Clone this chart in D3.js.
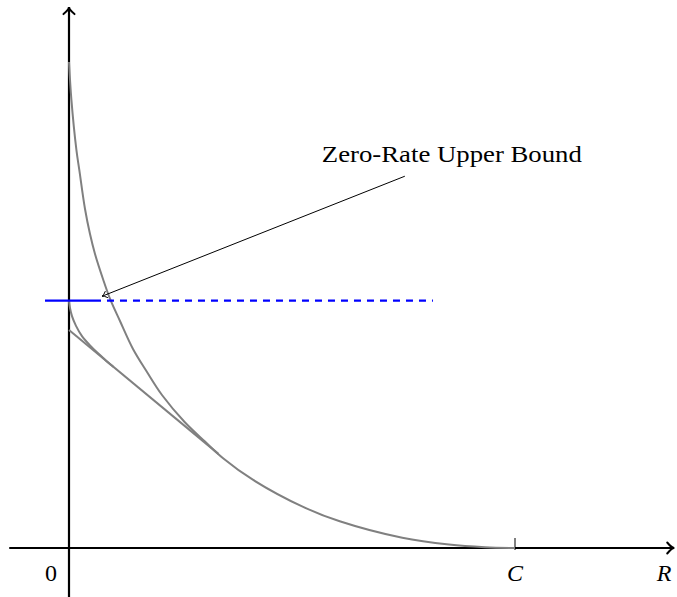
<!DOCTYPE html>
<html>
<head>
<meta charset="utf-8">
<script src="https://cdn.jsdelivr.net/npm/d3@7"></script>
<style>
  html, body { margin: 0; padding: 0; background: #fff; }
  svg { display: block; }
  text { font-family: "Liberation Serif", "DejaVu Serif", serif; fill: #000; }
</style>
</head>
<body>
<svg id="chart" width="677" height="597"></svg>
<script>
// Rate R (in units of capacity C) and exponent E values for each curve
const spRate = [0, 0.0054, 0.0166, 0.0231, 0.0359, 0.0471, 0.0583, 0.0762, 0.0930, 0.1143, 0.1435, 0.1749, 0.2085, 0.2592, 0.3049, 0.3462, 0.4121, 0.5238, 0.6070, 0.7473, 0.852, 0.9327, 1.0];
const spExp  = [1.000, 0.922, 0.819, 0.778, 0.6975, 0.646, 0.605, 0.5535, 0.5103, 0.4671, 0.4095, 0.3621, 0.3148, 0.2593, 0.219, 0.1842, 0.1405, 0.0850, 0.0549, 0.0210, 0.0070, 0.0016, 0];

// Straight-line segment from the zero-rate value to the critical rate
const lineRate = [0, 0.335];
const lineExp  = [0.4486, 0.1937];

// Expurgated curve near zero rate, merging into the straight line
const exRate = [0, 0.0022, 0.0067, 0.0157, 0.0291, 0.0471, 0.0695, 0.085, 0.10];
const exExp  = [0.508, 0.494, 0.477, 0.457, 0.436, 0.417, 0.397, 0.3839, 0.3725];

// Zero-rate upper bound (horizontal level), solid part then dashed part
const boundLevel = 0.509;
const boundSolid = [-0.0538, 0.0717];
const boundDashed = [0.0717, 0.816];

// Annotation arrow: from label toward the bound
const noteText = "Zero-Rate Upper Bound";
const noteFrom = [0.753, 0.765];
const noteTo = [0.074, 0.518];

// Axis labels
const originLabel = "0";
const capacityLabel = "C";
const rateLabel = "R";
const capacity = 1.0;

const svg = d3.select("#chart");

const x = d3.scaleLinear().domain([0, 1]).range([69, 515]);
const y = d3.scaleLinear().domain([0, 1]).range([548, 62]);

const gray = "#808080";
const blue = "#0000ff";

// Axes
const xMin = -0.134, xMax = 1.357;
const yMin = -0.101, yMax = 1.113;

svg.append("line")
  .attr("x1", x(xMin)).attr("x2", x(xMax))
  .attr("y1", y(0)).attr("y2", y(0))
  .attr("stroke", "#000").attr("stroke-width", 2.2);
svg.append("line")
  .attr("x1", x(0)).attr("x2", x(0))
  .attr("y1", y(yMin)).attr("y2", y(yMax))
  .attr("stroke", "#000").attr("stroke-width", 2.2);

// Open arrowheads
function arrowHead(tipX, tipY, angle, size, width) {
  const a = angle;
  const p1 = [tipX - size * Math.cos(a) + width * Math.sin(a), tipY - size * Math.sin(a) - width * Math.cos(a)];
  const p2 = [tipX - size * Math.cos(a) - width * Math.sin(a), tipY - size * Math.sin(a) + width * Math.cos(a)];
  const path = d3.path();
  path.moveTo(p1[0], p1[1]);
  path.quadraticCurveTo(tipX - size * 0.35 * Math.cos(a), tipY - size * 0.35 * Math.sin(a), tipX, tipY);
  path.quadraticCurveTo(tipX - size * 0.35 * Math.cos(a), tipY - size * 0.35 * Math.sin(a), p2[0], p2[1]);
  return path.toString();
}
svg.append("path")
  .attr("d", arrowHead(x(xMax), y(0), 0, 7, 5.5))
  .attr("fill", "none").attr("stroke", "#000").attr("stroke-width", 2).attr("stroke-linecap", "round");
svg.append("path")
  .attr("d", arrowHead(x(0), y(yMax), -Math.PI / 2, 7, 5.5))
  .attr("fill", "none").attr("stroke", "#000").attr("stroke-width", 2).attr("stroke-linecap", "round");

// Capacity tick
svg.append("line")
  .attr("x1", x(capacity)).attr("x2", x(capacity))
  .attr("y1", y(0) - 10).attr("y2", y(0) + 2)
  .attr("stroke", "#000").attr("stroke-width", 1);

// Curves
const curveLine = d3.line().x(d => x(d[0])).y(d => y(d[1])).curve(d3.curveCatmullRom.alpha(0.5));

svg.append("path")
  .datum(d3.zip(exRate, exExp))
  .attr("d", curveLine)
  .attr("fill", "none").attr("stroke", gray).attr("stroke-width", 2);

svg.append("path")
  .datum(d3.zip(lineRate, lineExp))
  .attr("d", d3.line().x(d => x(d[0])).y(d => y(d[1])))
  .attr("fill", "none").attr("stroke", gray).attr("stroke-width", 2);

svg.append("path")
  .datum(d3.zip(spRate, spExp))
  .attr("d", curveLine)
  .attr("fill", "none").attr("stroke", gray).attr("stroke-width", 2);

// Zero-rate upper bound
svg.append("line")
  .attr("x1", x(boundSolid[0])).attr("x2", x(boundSolid[1]))
  .attr("y1", y(boundLevel)).attr("y2", y(boundLevel))
  .attr("stroke", blue).attr("stroke-width", 2.2);
svg.append("line")
  .attr("x1", x(boundDashed[0])).attr("x2", x(boundDashed[1]))
  .attr("y1", y(boundLevel)).attr("y2", y(boundLevel))
  .attr("stroke", blue).attr("stroke-width", 2.2)
  .attr("stroke-dasharray", "7,6").attr("stroke-dashoffset", -6);

// Annotation arrow
const ax1 = x(noteFrom[0]), ay1 = y(noteFrom[1]);
const ax2 = x(noteTo[0]), ay2 = y(noteTo[1]);
svg.append("line")
  .attr("x1", ax1).attr("y1", ay1).attr("x2", ax2).attr("y2", ay2)
  .attr("stroke", "#000").attr("stroke-width", 1);
svg.append("path")
  .attr("d", arrowHead(ax2, ay2, Math.atan2(ay2 - ay1, ax2 - ax1), 5, 3.5))
  .attr("fill", "none").attr("stroke", "#000").attr("stroke-width", 1);

svg.append("text")
  .attr("x", x(noteFrom[0]) + 47).attr("y", 162)
  .attr("text-anchor", "middle")
  .attr("font-size", 24)
  .attr("textLength", 260)
  .attr("lengthAdjust", "spacingAndGlyphs")
  .text(noteText);

// Axis labels
svg.append("text")
  .attr("x", 51).attr("y", 581)
  .attr("text-anchor", "middle").attr("font-size", 24)
  .text(originLabel);
svg.append("text")
  .attr("x", x(capacity)).attr("y", 581)
  .attr("text-anchor", "middle").attr("font-size", 24).attr("font-style", "italic")
  .text(capacityLabel);
svg.append("text")
  .attr("x", 664).attr("y", 581)
  .attr("text-anchor", "middle").attr("font-size", 24).attr("font-style", "italic")
  .text(rateLabel);
</script>
</body>
</html>
